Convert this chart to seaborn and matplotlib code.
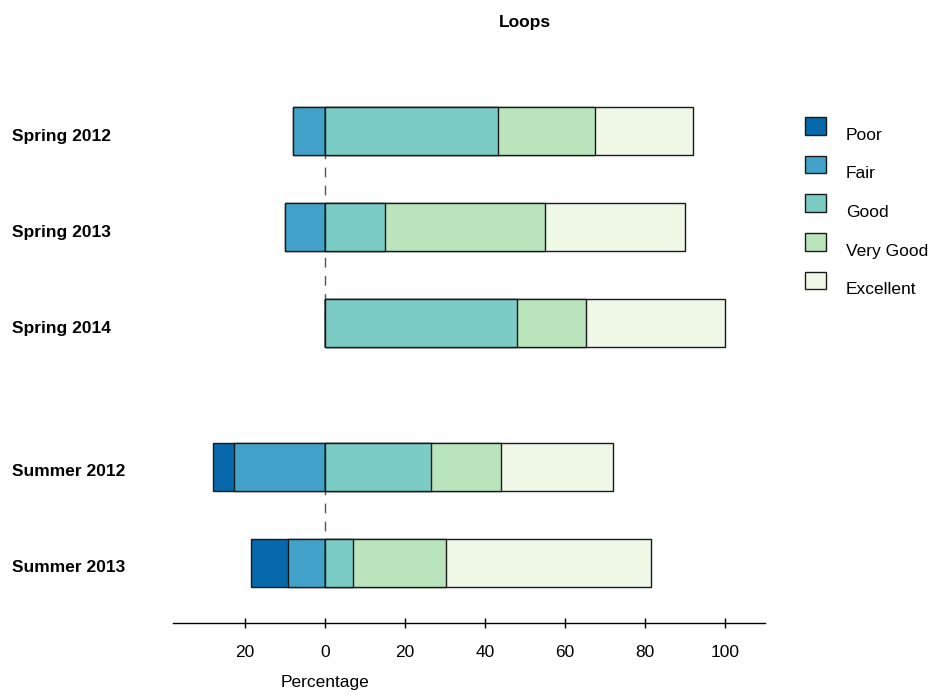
import numpy as np
import pandas as pd
import matplotlib
matplotlib.use('Agg')
import matplotlib.pyplot as plt
import seaborn as sns
from matplotlib.patches import Patch
from matplotlib import transforms

# Survey answers (percent) per term
groups = ['Spring 2012', 'Spring 2013', 'Spring 2014', 'Summer 2012', 'Summer 2013']
poor = [0, 0, 0, 5.3, 9.3]
fair = [8.1, 10.0, 0, 22.8, 9.3]
good = [43.3, 15.0, 47.9, 26.4, 7.0]
very_good = [24.3, 40.0, 17.4, 17.5, 23.3]
excellent = [24.4, 35.0, 34.7, 28.0, 51.3]

levels = ['Poor', 'Fair', 'Good', 'Very Good', 'Excellent']
colors = dict(zip(levels, ['#0868ac', '#43a2ca', '#7bccc4', '#bae4bc', '#f0f9e8']))
x_ticks = [-20, 0, 20, 40, 60, 80, 100]

df = pd.DataFrame({'group': groups, 'Poor': poor, 'Fair': fair, 'Good': good,
                   'Very Good': very_good, 'Excellent': excellent})
season = df['group'].str.split().str[0]
block = (season != season.shift()).cumsum() - 1
df['pos'] = np.arange(len(df)) + 0.5 * block

sns.set_style('white')
plt.rcParams['font.family'] = ['Liberation Sans', 'DejaVu Sans']
plt.rcParams['text.color'] = 'black'
plt.rcParams['axes.labelcolor'] = 'black'
FS = 12.5

fig = plt.figure(figsize=(9.37, 6.94), dpi=100)
ax = fig.add_axes([173 / 937, 1 - 623 / 694, (765 - 173) / 937, (623 - 83) / 694])

# stacked layers: widest first so narrower ones sit on top
layers = [
    ('Poor', -(df['Poor'] + df['Fair'])),
    ('Fair', -df['Fair']),
    ('Excellent', df['Good'] + df['Very Good'] + df['Excellent']),
    ('Very Good', df['Good'] + df['Very Good']),
    ('Good', df['Good']),
]
for name, vals in layers:
    sns.barplot(x=vals.values, y=df['pos'].values, orient='y', native_scale=True,
                width=0.5, color=colors[name], saturation=1, edgecolor='#1a1a1a',
                linewidth=1.0, errorbar=None, ax=ax)

# dashed zero line within each season block
for _, sub in df.groupby(block):
    ax.vlines(0, sub['pos'].min(), sub['pos'].max(), colors='#555555',
              linestyles=(0, (7, 6)), linewidth=1.0, zorder=0.5)

ax.set_xlim(-38, 110)
ax.set_ylim(5.125, -0.5)
ax.set_yticks([])
ax.set_ylabel('')
ax.set_xticks(x_ticks)
ax.set_xticklabels([str(abs(t)) for t in x_ticks])
ax.tick_params(axis='x', bottom=True, direction='inout', length=7, width=1,
               pad=12, labelsize=FS, colors='black')
sns.despine(ax=ax, left=True)
ax.spines['bottom'].set_color('black')
ax.spines['bottom'].set_linewidth(1)

ax.set_xlabel('Percentage', fontsize=FS, color='black')
ax.xaxis.set_label_coords(0, -0.097, transform=transforms.blended_transform_factory(ax.transData, ax.transAxes))

trans = transforms.blended_transform_factory(fig.transFigure, ax.transData)
trans = transforms.offset_copy(trans, fig=fig, y=-5, units='dots')
for y, label in zip(df['pos'], df['group']):
    fig.text(12 / 937, y, label, transform=trans, ha='left', va='center',
             fontsize=FS, fontweight='bold', color='black')

fig.text(525 / 937, 1 - 23 / 694, 'Loops', ha='center', va='center',
         fontsize=FS, fontweight='bold', color='black')

handles = [Patch(facecolor=colors[l], edgecolor='#1a1a1a', linewidth=1.0) for l in levels]
leg = fig.legend(handles, levels, loc='upper left', bbox_to_anchor=(805 / 937, 1 - 117 / 694),
                 frameon=False, fontsize=FS, borderpad=0, borderaxespad=0,
                 handlelength=1.2, handleheight=1.2, handletextpad=1.15, labelspacing=1.2)
for t in leg.get_texts():
    t.set_color('black')
    t.set_y(-8)

fig.savefig('out.png', dpi=100)
